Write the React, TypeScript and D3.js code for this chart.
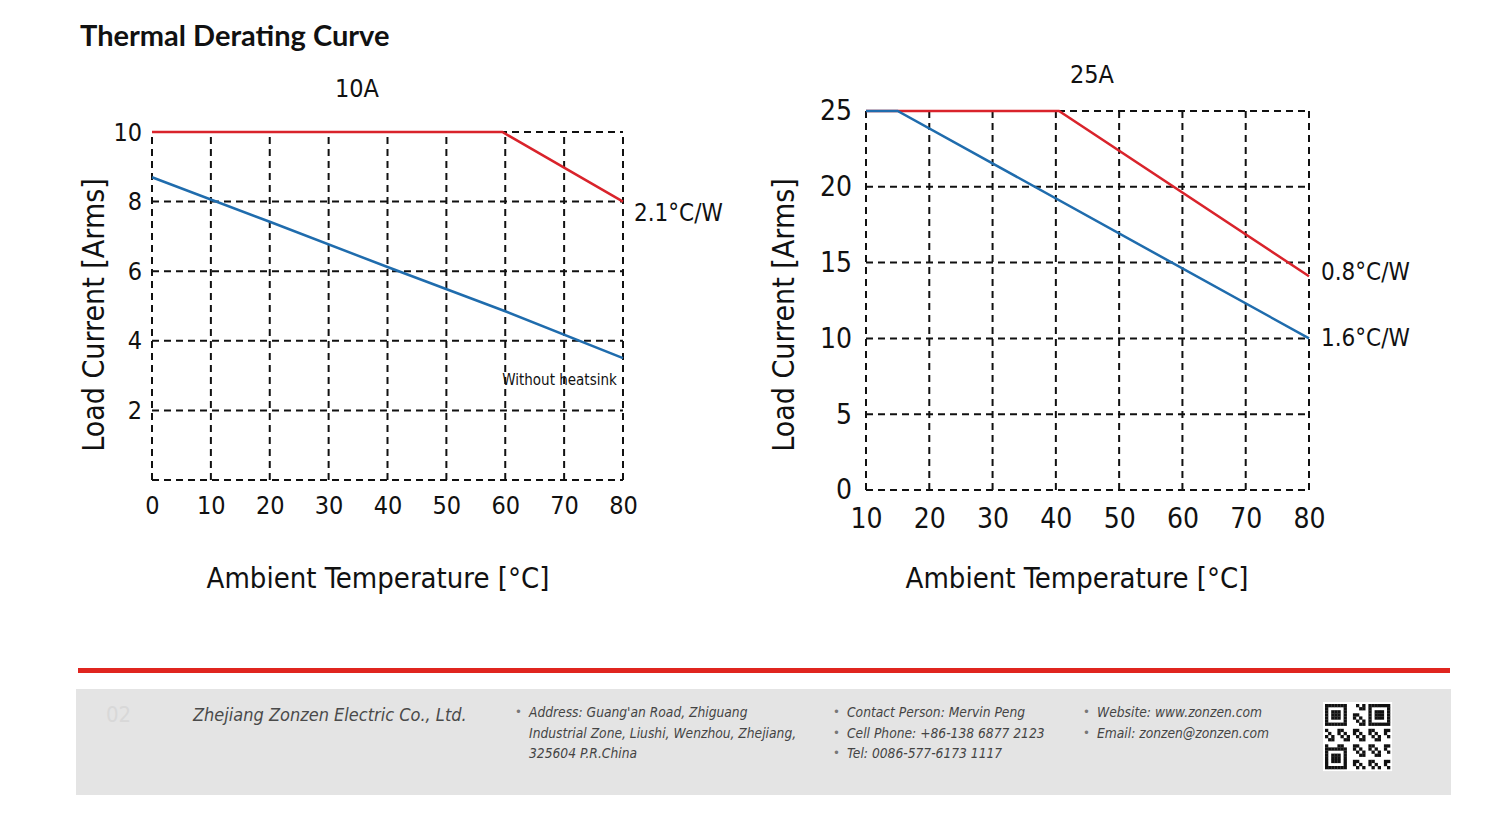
import React, { useEffect, useRef } from "react"
import * as d3 from "d3"

// 10A panel
const leftXTicks = [0, 10, 20, 30, 40, 50, 60, 70, 80]
const leftYTicks = [2, 4, 6, 8, 10]
const leftGridY = [0, 2, 4, 6, 8, 10]
const leftRed = [
  { t: 0, a: 10 },
  { t: 59.5, a: 10 },
  { t: 80, a: 8 }
]
const leftBlue = [
  { t: 0, a: 8.7 },
  { t: 20, a: 7.42 },
  { t: 40, a: 6.12 },
  { t: 60, a: 4.85 },
  { t: 80, a: 3.5 }
]

// 25A panel
const rightXTicks = [10, 20, 30, 40, 50, 60, 70, 80]
const rightYTicks = [0, 5, 10, 15, 20, 25]
const rightRed = [
  { t: 10, a: 25 },
  { t: 40.5, a: 25 },
  { t: 80, a: 14.1 }
]
const rightBlue = [
  { t: 10, a: 25 },
  { t: 15, a: 25 },
  { t: 80, a: 10 }
]

const RED = "#d9232b"
const BLUE = "#1f6cad"
const FONT = "'DejaVu Sans Condensed', 'DejaVu Sans', sans-serif"

const drawPanel = (svg, cfg) => {
  const x = d3.scaleLinear().domain(cfg.xDomain).range(cfg.xRange)
  const y = d3.scaleLinear().domain(cfg.yDomain).range(cfg.yRange)
  const g = svg.append("g")

  // dashed grid
  g.selectAll(".vg")
    .data(cfg.xTicks)
    .enter()
    .append("line")
    .attr("x1", d => x(d))
    .attr("x2", d => x(d))
    .attr("y1", y(cfg.yDomain[0]))
    .attr("y2", y(cfg.yDomain[1]))
    .attr("stroke", "#111")
    .attr("stroke-width", 2)
    .attr("stroke-dasharray", "7,5")
  g.selectAll(".hg")
    .data(cfg.gridY)
    .enter()
    .append("line")
    .attr("x1", x(cfg.xDomain[0]))
    .attr("x2", x(cfg.xDomain[1]))
    .attr("y1", d => y(d))
    .attr("y2", d => y(d))
    .attr("stroke", "#111")
    .attr("stroke-width", 2)
    .attr("stroke-dasharray", "7,5")

  const line = d3
    .line()
    .x(d => x(d.t))
    .y(d => y(d.a))
  cfg.series.forEach(s => {
    g.append("path")
      .datum(s.data)
      .attr("d", line)
      .attr("fill", "none")
      .attr("stroke", s.color)
      .attr("stroke-width", 2.5)
  })

  // axes
  const xAxis = g
    .append("g")
    .attr("transform", `translate(0, ${y(cfg.yDomain[0])})`)
    .call(d3.axisBottom(x).tickValues(cfg.xTicks).tickSize(0).tickPadding(cfg.xPad))
  const yAxis = g
    .append("g")
    .attr("transform", `translate(${x(cfg.xDomain[0])}, 0)`)
    .call(d3.axisLeft(y).tickValues(cfg.yTicks).tickSize(0).tickPadding(cfg.yPad))
  ;[xAxis, yAxis].forEach(a => {
    a.select(".domain").remove()
    a.selectAll("text")
      .attr("font-family", FONT)
      .attr("font-size", cfg.tickSize)
      .attr("fill", "#111")
  })

  g.append("text")
    .attr("x", cfg.titleX)
    .attr("y", cfg.titleY)
    .attr("text-anchor", "middle")
    .attr("dominant-baseline", "middle")
    .attr("font-family", FONT)
    .attr("font-size", 25)
    .attr("fill", "#111")
    .text(cfg.title)
  g.append("text")
    .attr("x", cfg.xTitleX)
    .attr("y", 580)
    .attr("text-anchor", "middle")
    .attr("dominant-baseline", "middle")
    .attr("font-family", FONT)
    .attr("font-size", 29)
    .attr("fill", "#111")
    .text("Ambient Temperature [°C]")
  g.append("text")
    .attr("transform", `translate(${cfg.yTitleX}, 315) rotate(-90)`)
    .attr("text-anchor", "middle")
    .attr("dominant-baseline", "middle")
    .attr("font-family", FONT)
    .attr("font-size", 30)
    .attr("fill", "#111")
    .text("Load Current [Arms]")

  cfg.notes.forEach(n => {
    g.append("text")
      .attr("x", x(n.t) + (n.dx || 0))
      .attr("y", y(n.a))
      .attr("dominant-baseline", "middle")
      .attr("font-family", FONT)
      .attr("font-size", n.size)
      .attr("fill", "#111")
      .text(n.label)
  })
}

const App = () => {
  const ref = useRef(null)
  useEffect(() => {
    const svg = d3.select(ref.current)
    svg.selectAll("*").remove()
    svg.append("rect").attr("width", 1497).attr("height", 837).attr("fill", "#fff")

    svg.append("text")
      .attr("x", 80)
      .attr("y", 46)
      .attr("font-family", "Lato, 'DejaVu Sans', sans-serif")
      .attr("font-size", 29)
      .attr("font-weight", 700)
      .attr("fill", "#111")
      .text("Thermal Derating Curve")

    drawPanel(svg, {
      xDomain: [0, 80],
      yDomain: [0, 10],
      xRange: [152, 623],
      yRange: [480, 132],
      xTicks: leftXTicks,
      yTicks: leftYTicks,
      gridY: leftGridY,
      xPad: 16,
      yPad: 10,
      tickSize: 25,
      title: "10A",
      titleX: 357,
      titleY: 90,
      xTitleX: 378,
      yTitleX: 95,
      series: [
        { data: leftRed, color: RED },
        { data: leftBlue, color: BLUE }
      ],
      notes: [
        { t: 80, a: 7.65, dx: 11, label: "2.1°C/W", size: 24 },
        { t: 60, a: 2.87, dx: -3, label: "Without heatsink", size: 15 }
      ]
    })

    drawPanel(svg, {
      xDomain: [10, 80],
      yDomain: [0, 25],
      xRange: [866, 1309],
      yRange: [490, 111],
      xTicks: rightXTicks,
      yTicks: rightYTicks,
      gridY: rightYTicks,
      xPad: 18,
      yPad: 14,
      tickSize: 28,
      title: "25A",
      titleX: 1092,
      titleY: 76,
      xTitleX: 1077,
      yTitleX: 785,
      series: [
        { data: rightRed, color: RED },
        { data: rightBlue, color: BLUE }
      ],
      notes: [
        { t: 80, a: 14.3, dx: 12, label: "0.8°C/W", size: 24 },
        { t: 80, a: 9.95, dx: 12, label: "1.6°C/W", size: 24 }
      ]
    })

    // footer
    svg.append("rect").attr("x", 78).attr("y", 668).attr("width", 1372).attr("height", 5).attr("fill", "#e0251f")
    svg.append("rect").attr("x", 76).attr("y", 689).attr("width", 1375).attr("height", 106).attr("fill", "#e4e4e4")
    svg.append("text")
      .attr("x", 106).attr("y", 722)
      .attr("font-family", FONT).attr("font-size", 22).attr("fill", "#d8d8d8")
      .text("02")
    svg.append("text")
      .attr("x", 193).attr("y", 721)
      .attr("font-family", FONT).attr("font-size", 18).attr("font-style", "italic").attr("fill", "#4a4a4a")
      .text("Zhejiang Zonzen Electric Co., Ltd.")

    const cols = [
      { x: 515, lines: [["•", "Address: Guang'an Road, Zhiguang"], ["", "Industrial Zone, Liushi, Wenzhou, Zhejiang,"], ["", "325604 P.R.China"]] },
      { x: 833, lines: [["•", "Contact Person: Mervin Peng"], ["•", "Cell Phone: +86-138 6877 2123"], ["•", "Tel: 0086-577-6173 1117"]] },
      { x: 1083, lines: [["•", "Website: www.zonzen.com"], ["•", "Email: zonzen@zonzen.com"]] }
    ]
    cols.forEach(c => {
      c.lines.forEach((l, i) => {
        const yy = 717 + i * 20.5
        if (l[0]) {
          svg.append("text").attr("x", c.x).attr("y", yy - 1)
            .attr("font-family", FONT).attr("font-size", 13).attr("fill", "#777").text(l[0])
        }
        svg.append("text").attr("x", c.x + 14).attr("y", yy)
          .attr("font-family", FONT).attr("font-size", 13.7).attr("font-style", "italic").attr("fill", "#444")
          .text(l[1])
      })
    })

    // QR-style mark
    const qx = 1325, qy = 704, n = 21, m = 3.1
    svg.append("rect").attr("x", qx - 2).attr("y", qy - 2).attr("width", n * m + 4).attr("height", n * m + 4).attr("fill", "#fff")
    const finder = (r, c) =>
      (r < 7 && c < 7) || (r < 7 && c >= n - 7) || (r >= n - 7 && c < 7)
    const cells = []
    for (let r = 0; r < n; r++) {
      for (let c = 0; c < n; c++) {
        let on
        if (finder(r, c)) {
          const rr = r < 7 ? r : r - (n - 7)
          const cc = c < 7 ? c : c - (n - 7)
          on = rr === 0 || rr === 6 || cc === 0 || cc === 6 || (rr >= 2 && rr <= 4 && cc >= 2 && cc <= 4)
        } else if ((r === 7 && (c < 8 || c >= n - 8)) || (c === 7 && (r < 8 || r >= n - 8)) || (r < 8 && c === n - 8)) {
          on = false
        } else {
          on = ((r * 7 + c * 13 + r * c) % 5) < 2
        }
        if (on) cells.push({ r, c })
      }
    }
    svg.selectAll(".qr")
      .data(cells)
      .enter()
      .append("rect")
      .attr("x", d => qx + d.c * m)
      .attr("y", d => qy + d.r * m)
      .attr("width", m + 0.2)
      .attr("height", m + 0.2)
      .attr("fill", "#111")
  }, [])

  return (
    <svg
      ref={ref}
      width={1497}
      height={837}
      style={{ position: "absolute", left: 0, top: 0 }}
    />
  )
}

export default App
